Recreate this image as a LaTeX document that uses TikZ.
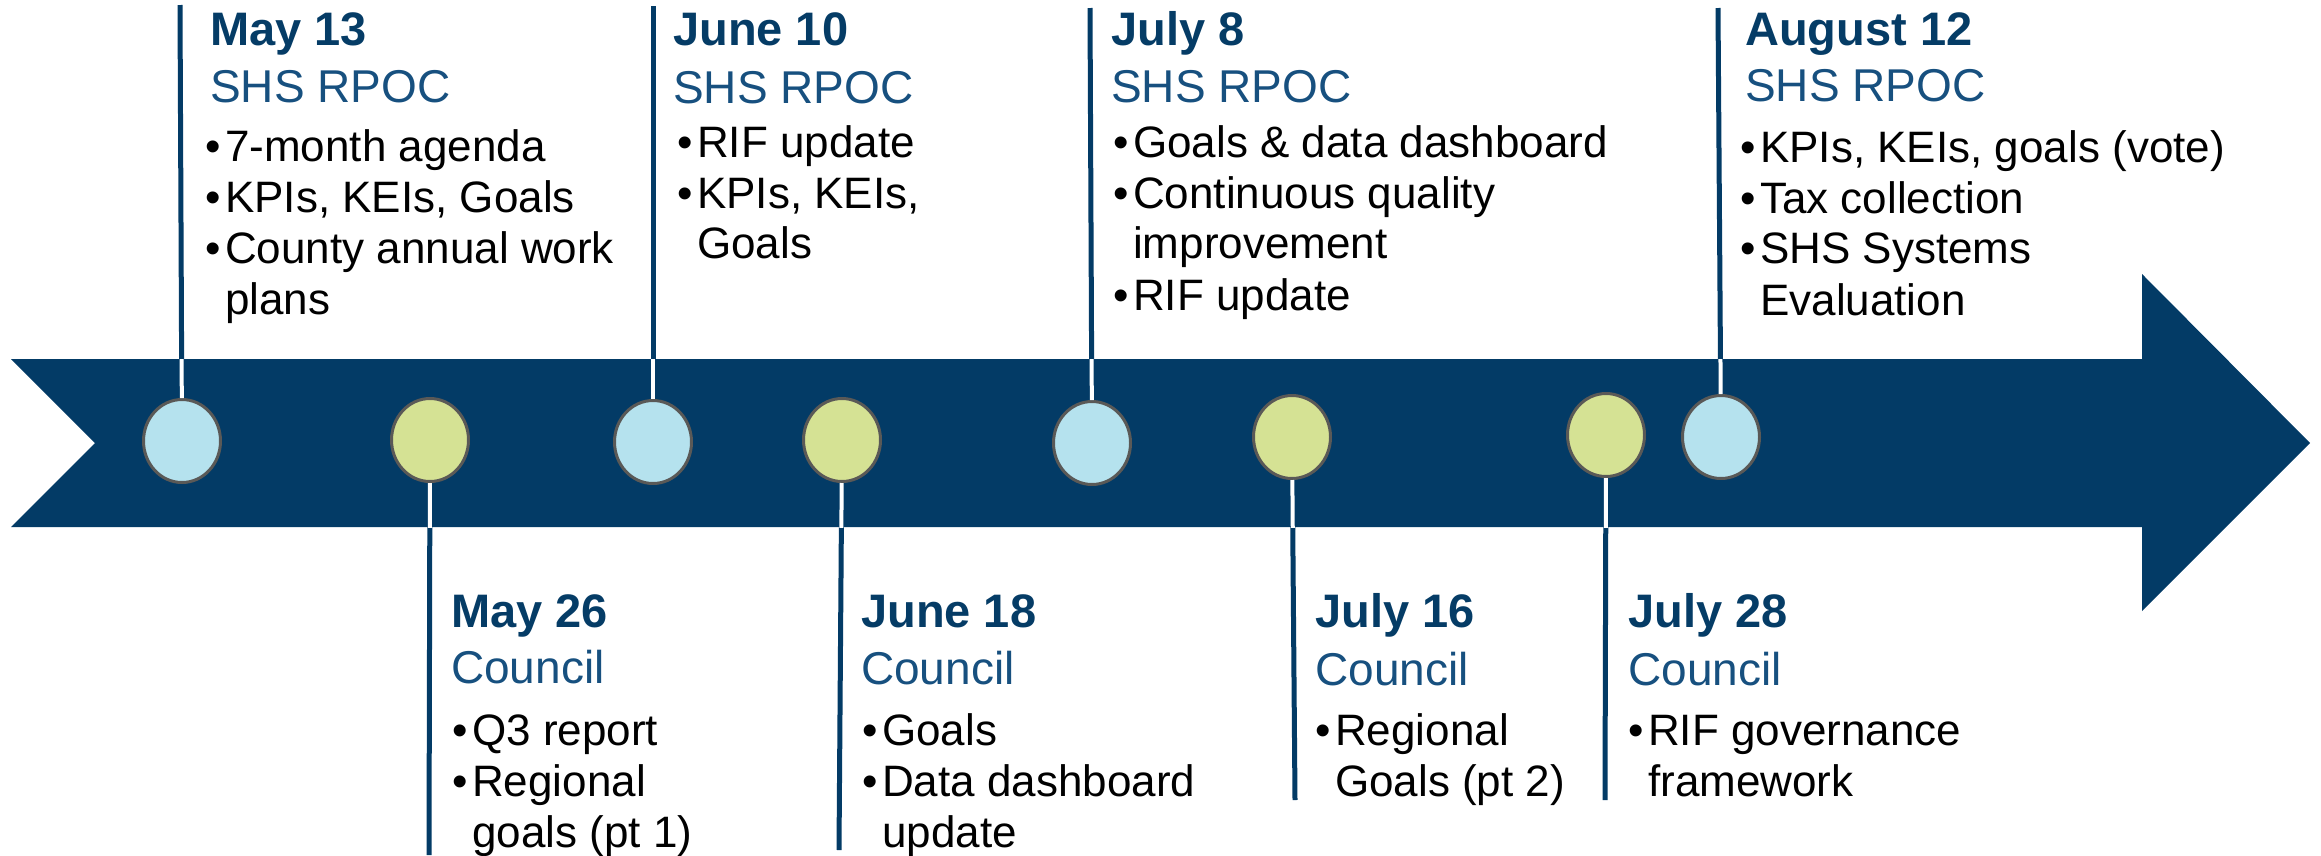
\documentclass[tikz,border=0pt]{standalone}
\usepackage{fontspec}
\setmainfont{Liberation Sans}
\usetikzlibrary{shapes.geometric}
\definecolor{navy}{HTML}{033B66}
\definecolor{datec}{HTML}{053C66}
\definecolor{titlec}{HTML}{17507F}
\definecolor{bluec}{HTML}{B5E2EE}
\definecolor{greenc}{HTML}{D5E294}
\definecolor{ringc}{HTML}{5A5957}
\tikzset{
  datest/.style={anchor=base west, inner sep=0pt, text=datec, font=\fontsize{47}{56}\selectfont\bfseries},
  titlest/.style={anchor=base west, inner sep=0pt, text=titlec, font=\fontsize{46}{55}\selectfont},
  bulst/.style={anchor=base west, inner sep=0pt, text=black, font=\fontsize{44}{51}\selectfont},
  dotst/.style={ellipse, draw=ringc, line width=3pt, minimum width=77pt, minimum height=83pt, inner sep=0pt},
  bdot/.style={dotst, fill=bluec},
  gdot/.style={dotst, fill=greenc},
  conn/.style={draw=navy, line width=5pt},
  hl/.style={draw=white, line width=4pt}
}
\newcommand\myBul[4]{\node[bulst] (#1) at (#2,#3) {\llap{•\hskip4pt}#4};}
\newcommand\myCont[4]{\node[bulst] (#1) at (#2,#3) {#4};}
\begin{document}
\begin{tikzpicture}[x=1pt,y=-1pt]
\clip (0,0) rectangle (2321,855);
\useasboundingbox (0,0) rectangle (2321,855);
% arrow
\fill[navy] (11,359) -- (2142,359) -- (2142,274) -- (2310,443) -- (2142,611) -- (2142,527) -- (11,527) -- (95,443) -- cycle;
% milestones
\node[bdot] (c1) at (182,441) {};
\node[gdot] (c2) at (430,440) {};
\node[bdot] (c3) at (653,442) {};
\node[gdot] (c4) at (842,440) {};
\node[bdot] (c5) at (1092,443) {};
\node[gdot] (c6) at (1292,437) {};
\node[gdot] (c7) at (1606,435) {};
\node[bdot] (c8) at (1721,437) {};
% line ends
\coordinate (e1) at (180,5);
\coordinate (e2) at (429,855);
\coordinate (e3) at (653,6);
\coordinate (e4) at (839,850);
\coordinate (e5) at (1090,8);
\coordinate (e6) at (1295,800);
\coordinate (e7) at (1605,800);
\coordinate (e8) at (1718,8);
\foreach \i in {1,...,8} {\draw[conn] (e\i) -- (c\i);}
\begin{scope}
\clip (11,359) rectangle (2142,527);
\foreach \i in {1,...,8} {\draw[hl] (e\i) -- (c\i);}
\end{scope}
% May 13
\node[datest] (d1) at (210,45) {May 13};
\node[titlest] (t1) at (210,102) {SHS RPOC};
\myBul{b1a}{225}{161}{7-month agenda}
\myBul{b1b}{225}{212}{KPIs, KEIs, Goals}
\myBul{b1c}{225}{263}{County annual work}
\myCont{b1d}{225}{314}{plans}
% June 10
\node[datest] (d3) at (673,45) {June 10};
\node[titlest] (t3) at (673,103) {SHS RPOC};
\myBul{b3a}{697}{157}{RIF update}
\myBul{b3b}{697}{208}{KPIs, KEIs,}
\myCont{b3c}{697}{258}{Goals}
% July 8
\node[datest] (d5) at (1111,45) {July 8};
\node[titlest] (t5) at (1111,102) {SHS RPOC};
\myBul{b5a}{1133}{157}{Goals \& data dashboard}
\myBul{b5b}{1133}{208}{Continuous quality}
\myCont{b5c}{1133}{258}{improvement}
\myBul{b5d}{1133}{310}{RIF update}
% August 12
\node[datest] (d8) at (1745,45) {August 12};
\node[titlest] (t8) at (1745,101) {SHS RPOC};
\myBul{b8a}{1760}{162}{KPIs, KEIs, goals (vote)}
\myBul{b8b}{1760}{213}{Tax collection}
\myBul{b8c}{1760}{263}{SHS Systems}
\myCont{b8d}{1760}{315}{Evaluation}
% May 26
\node[datest] (d2) at (451,627) {May 26};
\node[titlest] (t2) at (451,683) {Council};
\myBul{b2a}{472}{745}{Q3 report}
\myBul{b2b}{472}{796}{Regional}
\myCont{b2c}{472}{847}{goals (pt 1)}
% June 18
\node[datest] (d4) at (861,627) {June 18};
\node[titlest] (t4) at (861,684) {Council};
\myBul{b4a}{882}{745}{Goals}
\myBul{b4b}{882}{796}{Data dashboard}
\myCont{b4c}{882}{847}{update}
% July 16
\node[datest] (d6) at (1315,627) {July 16};
\node[titlest] (t6) at (1315,685) {Council};
\myBul{b6a}{1335}{745}{Regional}
\myCont{b6b}{1335}{796}{Goals (pt 2)}
% July 28
\node[datest] (d7) at (1628,627) {July 28};
\node[titlest] (t7) at (1628,685) {Council};
\myBul{b7a}{1648}{745}{RIF governance}
\myCont{b7b}{1648}{796}{framework}
\end{tikzpicture}
\end{document}
